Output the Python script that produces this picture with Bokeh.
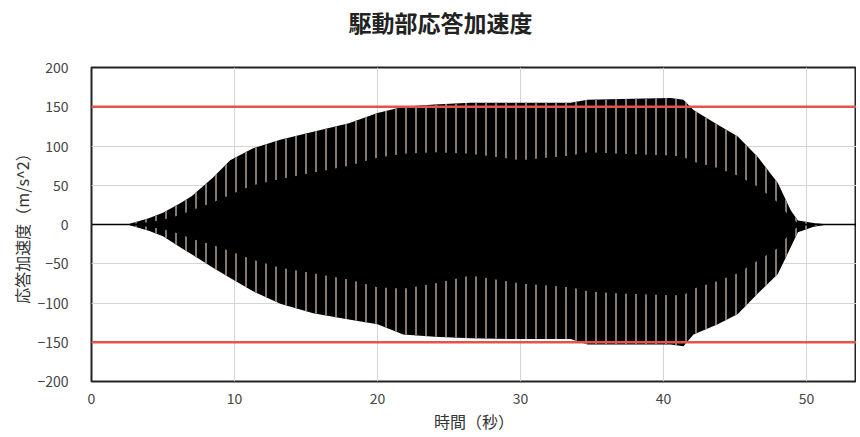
from bokeh.plotting import figure
from bokeh.models import Span, Range1d, FixedTicker, Title
from bokeh.embed import file_html
from bokeh.resources import INLINE

# envelope of the response acceleration
time = [0, 2.5, 4, 5, 6.2, 7, 8.5, 9.7, 11.3, 13.2, 15.5, 18, 20, 21.8, 24, 26.5, 30,
        33.5, 34.7, 37, 40.5, 41.4, 42.1, 43.8, 45.2, 46.6, 48, 48.9, 49.4, 50.5, 51.5, 54]
upper = [0, 0, 8, 15, 27, 36, 60, 82, 97, 108, 118, 129, 142, 150, 153, 155, 155,
         155, 159, 160, 161, 159, 146, 127, 112, 86, 53, 18, 5, 2, 0, 0]
lower = [0, 0, -8, -15, -29, -38, -55, -68, -85, -101, -113, -121, -127, -140, -143, -145, -146,
         -146, -153, -153, -153, -155, -140, -127, -114, -88, -63, -29, -10, -3, 0, 0]
# solid core (where the oscillation is too dense to show gaps)
core_upper = [0, 0, 3, 6, 12, 18, 28, 38, 50, 58, 66, 75, 85, 90, 92, 90, 82,
              88, 92, 90, 88, 86, 80, 72, 62, 48, 28, 8, 2, 0, 0, 0]
core_lower = [0, 0, -3, -6, -12, -18, -26, -34, -45, -55, -62, -70, -80, -82, -75, -65, -75,
              -80, -85, -88, -90, -90, -82, -72, -62, -46, -30, -10, -3, 0, 0, 0]
limit = 150
x_ticks = [0, 10, 20, 30, 40, 50]
y_ticks = [-200, -150, -100, -50, 0, 50, 100, 150, 200]
title_text = "駆動部応答加速度"

JP = "Noto Sans CJK JP"

p = figure(width=856, height=435, output_backend="svg", toolbar_location=None,
           x_range=Range1d(0, 53.5), y_range=Range1d(-200, 200),
           min_border_left=91, min_border_right=0, min_border_top=67, min_border_bottom=49)

# spacer between title and plot frame, then the title itself
p.add_layout(Title(text=" ", text_font_size="10px", standoff=16), "above")
p.add_layout(Title(text=title_text, text_font=JP, text_font_size="23px",
                   text_font_style="bold", text_color="#222222",
                   align="left", offset=257, standoff=0), "above")

p.varea(x=time, y1=lower, y2=upper, fill_color="black",
        hatch_pattern="vertical_line", hatch_color="#85786f", hatch_weight=2, hatch_scale=10)
p.varea(x=time, y1=core_lower, y2=core_upper, fill_color="black")
p.add_layout(Span(location=0, dimension="width", line_color="black", line_width=1.5))

for v in (limit, -limit):
    p.add_layout(Span(location=v, dimension="width", line_color="#e5544c", line_width=2.5))

p.xaxis.ticker = FixedTicker(ticks=x_ticks)
p.yaxis.ticker = FixedTicker(ticks=y_ticks)
p.xgrid.ticker = FixedTicker(ticks=x_ticks)
p.ygrid.ticker = FixedTicker(ticks=y_ticks)
p.grid.grid_line_color = "#d4d4d4"
p.grid.grid_line_width = 1

for ax in (p.xaxis, p.yaxis):
    ax.axis_line_color = None
    ax.major_tick_line_color = None
    ax.minor_tick_line_color = None
    ax.major_label_text_font = JP
    ax.major_label_text_font_size = "14px"
    ax.major_label_text_color = "#444444"
    ax.axis_label_text_font = JP
    ax.axis_label_text_font_size = "16px"
    ax.axis_label_text_font_style = "normal"
    ax.axis_label_text_color = "#333333"

p.xaxis.axis_label = "時間（秒）"
p.yaxis.axis_label = "応答加速度（m/s^2）"
p.xaxis.major_label_standoff = 5
p.yaxis.major_label_standoff = 17
p.xaxis.axis_label_standoff = 2
p.yaxis.axis_label_standoff = 0

p.outline_line_color = "#222222"
p.outline_line_width = 2
p.background_fill_color = "white"
p.border_fill_color = "white"

open("out.html", "w").write(file_html(p, INLINE))
